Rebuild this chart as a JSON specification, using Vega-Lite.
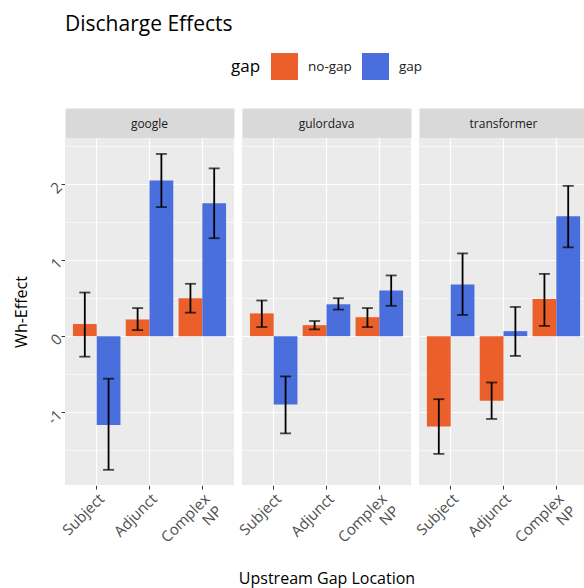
{
  "$schema": "https://vega.github.io/schema/vega-lite/v6.json",
  "padding": {"left": 13, "top": 14, "right": 0, "bottom": 3},
  "background": "white",
  "title": {"text": "Discharge Effects", "anchor": "start", "frame": "group", "fontSize": 21, "font": "Open Sans", "fontWeight": "normal", "color": "#000000", "offset": 18},
  "data": {"values": [
    {"model": "google", "loc": "Subject", "gap": "no-gap", "effect": 0.16, "lo": -0.27, "hi": 0.575},
    {"model": "google", "loc": "Subject", "gap": "gap", "effect": -1.17, "lo": -1.76, "hi": -0.56},
    {"model": "google", "loc": "Adjunct", "gap": "no-gap", "effect": 0.22, "lo": 0.08, "hi": 0.37},
    {"model": "google", "loc": "Adjunct", "gap": "gap", "effect": 2.05, "lo": 1.70, "hi": 2.40},
    {"model": "google", "loc": "Complex NP", "gap": "no-gap", "effect": 0.50, "lo": 0.31, "hi": 0.69},
    {"model": "google", "loc": "Complex NP", "gap": "gap", "effect": 1.75, "lo": 1.29, "hi": 2.21},
    {"model": "gulordava", "loc": "Subject", "gap": "no-gap", "effect": 0.30, "lo": 0.12, "hi": 0.47},
    {"model": "gulordava", "loc": "Subject", "gap": "gap", "effect": -0.90, "lo": -1.28, "hi": -0.53},
    {"model": "gulordava", "loc": "Adjunct", "gap": "no-gap", "effect": 0.145, "lo": 0.09, "hi": 0.20},
    {"model": "gulordava", "loc": "Adjunct", "gap": "gap", "effect": 0.42, "lo": 0.35, "hi": 0.50},
    {"model": "gulordava", "loc": "Complex NP", "gap": "no-gap", "effect": 0.25, "lo": 0.12, "hi": 0.37},
    {"model": "gulordava", "loc": "Complex NP", "gap": "gap", "effect": 0.60, "lo": 0.40, "hi": 0.80},
    {"model": "transformer", "loc": "Subject", "gap": "no-gap", "effect": -1.19, "lo": -1.55, "hi": -0.83},
    {"model": "transformer", "loc": "Subject", "gap": "gap", "effect": 0.68, "lo": 0.28, "hi": 1.09},
    {"model": "transformer", "loc": "Adjunct", "gap": "no-gap", "effect": -0.85, "lo": -1.09, "hi": -0.61},
    {"model": "transformer", "loc": "Adjunct", "gap": "gap", "effect": 0.066, "lo": -0.26, "hi": 0.385},
    {"model": "transformer", "loc": "Complex NP", "gap": "no-gap", "effect": 0.49, "lo": 0.135, "hi": 0.82},
    {"model": "transformer", "loc": "Complex NP", "gap": "gap", "effect": 1.58, "lo": 1.17, "hi": 1.98}
  ]},
  "facet": {"column": {"field": "model", "type": "nominal", "sort": ["google", "gulordava", "transformer"],
    "header": {"title": "Upstream Gap Location", "titleOrient": "bottom", "titleFontSize": 16, "titleFont": "Open Sans", "titleFontWeight": "normal", "titleColor": "#000000", "titlePadding": 3,
      "labels": true, "labelOrient": "top", "labelPadding": -13, "labelFontSize": 12, "labelFont": "Open Sans", "labelColor": "#1A1A1A", "labelBaseline": "middle"}}},
  "spacing": 8,
  "spec": {
    "width": 169,
    "height": 347,
    "resolve": {"axis": {"x": "independent"}},
    "layer": [
      {
        "mark": {"type": "point", "opacity": 0},
        "encoding": {
          "x": {"field": "loc", "type": "nominal",
            "scale": {"domain": ["Subject", "Adjunct", "Complex NP"], "paddingInner": 0.1, "paddingOuter": 0.15},
            "axis": {"orient": "top", "title": null, "ticks": false, "labels": false, "grid": false, "domain": true, "domainWidth": 30, "domainColor": "#D9D9D9", "offset": 15}},
          "y": {"field": "effect", "type": "quantitative"}
        }
      },
      {
        "mark": {"type": "bar"},
        "encoding": {
          "x": {"field": "loc", "type": "nominal",
            "axis": {"title": null, "bandPosition": 0.5, "grid": true, "gridColor": "#FFFFFF", "gridWidth": 1.2, "domain": false, "tickSize": 4, "tickColor": "#333333", "tickWidth": 1, "labelAngle": -45, "labelAlign": "right", "labelBaseline": "top", "labelFontSize": 15, "labelFont": "Open Sans", "labelColor": "#4D4D4D", "labelPadding": 2, "labelExpr": "datum.value == 'Complex NP' ? ['Complex', 'NP'] : datum.label"}},
          "xOffset": {"field": "gap", "type": "nominal", "scale": {"domain": ["no-gap", "gap"], "paddingInner": 0, "paddingOuter": 0}},
          "y": {"field": "effect", "type": "quantitative",
            "scale": {"domain": [-1.96, 2.61], "nice": false, "zero": false},
            "axis": {"title": "Wh-Effect", "titleFontSize": 16, "titleFont": "Open Sans", "titleFontWeight": "normal", "titleColor": "#000000", "titlePadding": 15,
              "values": [-1.5, -1, -0.5, 0, 0.5, 1, 1.5, 2, 2.5],
              "labelExpr": "datum.value % 1 == 0 ? toString(datum.value) : ''",
              "labelAngle": -45, "labelAlign": "right", "labelBaseline": "middle", "labelFontSize": 15, "labelFont": "Open Sans", "labelColor": "#4D4D4D", "labelPadding": 2,
              "domain": false, "tickSize": 4, "tickColor": "#333333",
              "tickOpacity": {"condition": {"test": "datum.value % 1 == 0", "value": 1}, "value": 0},
              "grid": true, "gridColor": "#FFFFFF",
              "gridWidth": {"condition": {"test": "datum.value % 1 == 0", "value": 1.2}, "value": 0.6}}},
          "color": {"field": "gap", "type": "nominal",
            "scale": {"domain": ["no-gap", "gap"], "range": ["#EA5F2A", "#4A6FDC"]},
            "legend": {"title": "gap", "orient": "none", "legendX": 166, "legendY": -85, "direction": "horizontal", "titleOrient": "left", "titleFontSize": 17, "titleFont": "Open Sans", "titleFontWeight": "normal", "titleColor": "#000000", "titlePadding": 10, "symbolType": "square", "symbolSize": 729, "symbolStrokeWidth": 0, "symbolOpacity": 1, "labelFontSize": 13.5, "labelFont": "Open Sans", "labelColor": "#1A1A1A", "labelOffset": 10, "columnPadding": 10}}
        }
      },
      {
        "mark": {"type": "rule", "color": "#000000", "strokeWidth": 1.8},
        "encoding": {
          "x": {"field": "loc", "type": "nominal", "axis": null},
          "xOffset": {"field": "gap", "type": "nominal"},
          "y": {"field": "lo", "type": "quantitative"},
          "y2": {"field": "hi"}
        }
      },
      {
        "mark": {"type": "tick", "color": "#000000", "thickness": 1.8, "size": 11, "orient": "horizontal"},
        "encoding": {
          "x": {"field": "loc", "type": "nominal", "axis": null},
          "xOffset": {"field": "gap", "type": "nominal"},
          "y": {"field": "lo", "type": "quantitative"}
        }
      },
      {
        "mark": {"type": "tick", "color": "#000000", "thickness": 1.8, "size": 11, "orient": "horizontal"},
        "encoding": {
          "x": {"field": "loc", "type": "nominal", "axis": null},
          "xOffset": {"field": "gap", "type": "nominal"},
          "y": {"field": "hi", "type": "quantitative"}
        }
      }
    ]
  },
  "config": {
    "view": {"fill": "#EBEBEB", "stroke": null},
    "font": "Open Sans"
  }
}
